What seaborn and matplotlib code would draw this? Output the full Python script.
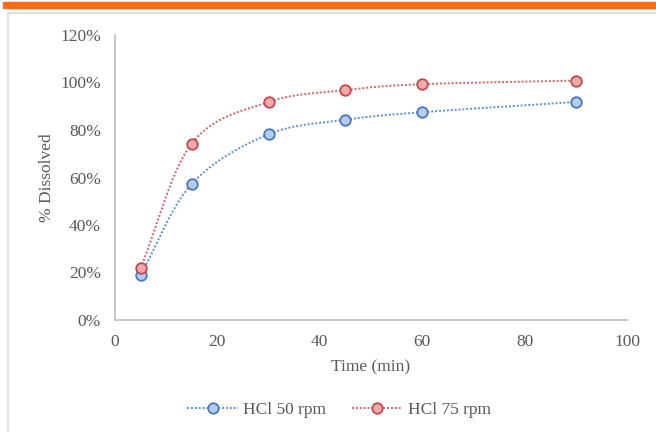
import numpy as np
import pandas as pd
import matplotlib
matplotlib.use("Agg")
import matplotlib.pyplot as plt
import seaborn as sns
from matplotlib.patches import Rectangle
from matplotlib.ticker import PercentFormatter

# values
time_min = [5, 15, 30, 45, 60, 90]
hcl_50 = [19.0, 57.3, 78.2, 84.3, 87.5, 91.8]
hcl_75 = [21.9, 74.3, 91.8, 96.8, 99.3, 100.8]
series_names = ["HCl 50 rpm", "HCl 75 rpm"]

df = pd.DataFrame({
    "Time": time_min * 2,
    "Dissolved": hcl_50 + hcl_75,
    "Series": [series_names[0]] * len(time_min) + [series_names[1]] * len(time_min),
})

sns.set_style("white")
plt.rcParams["font.family"] = ["Liberation Serif", "DejaVu Serif"]
text_grey = "#595959"
fs = 12.5

line_cols = {series_names[0]: "#5b8fd0", series_names[1]: "#d0646a"}
face_cols = {series_names[0]: "#b4cbec", series_names[1]: "#f2a9ac"}
edge_cols = {series_names[0]: "#4a78bd", series_names[1]: "#bf4b50"}


def smooth(x, y, n=40):
    # Excel-style smoothed line (Catmull-Rom through the points)
    x = np.asarray(x, float)
    y = np.asarray(y, float)
    px = np.concatenate([[2 * x[0] - x[1]], x, [2 * x[-1] - x[-2]]])
    py = np.concatenate([[2 * y[0] - y[1]], y, [2 * y[-1] - y[-2]]])
    xs, ys = [], []
    t = np.linspace(0, 1, n)
    for i in range(1, len(px) - 2):
        for p, out in ((px, xs), (py, ys)):
            p0, p1, p2, p3 = p[i - 1], p[i], p[i + 1], p[i + 2]
            m1 = (p2 - p0) / 6
            m2 = (p3 - p1) / 6
            b = ((1 - t) ** 3 * p1 + 3 * (1 - t) ** 2 * t * (p1 + m1)
                 + 3 * (1 - t) * t ** 2 * (p2 - m2) + t ** 3 * p2)
            out.extend(b)
    return np.array(xs), np.array(ys)


fig = plt.figure(figsize=(6.56, 4.32), dpi=100)
# orange top band and the light grey chart frame
fig.patches.append(Rectangle((3 / 656, 1 - 8 / 432), 653 / 656, 6 / 432,
                             transform=fig.transFigure, color="#ff6a13", zorder=0))
fig.patches.append(Rectangle((8 / 656, -0.05), 0.99, 1 - 13 / 432 + 0.05,
                             transform=fig.transFigure, fill=False,
                             edgecolor="#d9d9d9", linewidth=1.2, zorder=0))

ax = fig.add_axes([115 / 656, 1 - 320 / 432, 512 / 656, 285 / 432])
ax.set_facecolor("none")

dots = (0, (1, 1))
for name in series_names:
    sub = df[df["Series"] == name]
    sx, sy = smooth(sub["Time"], sub["Dissolved"])
    ax.plot(sx, sy, linestyle=dots, color=line_cols[name], linewidth=1.4, zorder=2)
    sns.scatterplot(data=sub, x="Time", y="Dissolved", ax=ax, s=58,
                    color=face_cols[name], edgecolor=edge_cols[name], linewidth=1.3,
                    zorder=3, legend=False)

ax.set_xlim(0, 100)
ax.set_ylim(0, 120)
ax.set_xticks([0, 20, 40, 60, 80, 100])
ax.set_yticks([0, 20, 40, 60, 80, 100, 120])
ax.yaxis.set_major_formatter(PercentFormatter(decimals=0))
ax.tick_params(labelsize=fs, colors=text_grey, length=0)
ax.tick_params(axis="x", pad=10)
ax.tick_params(axis="y", pad=10)
for side in ["top", "right"]:
    ax.spines[side].set_visible(False)
for side in ["left", "bottom"]:
    ax.spines[side].set_color("#bfbfbf")
    ax.spines[side].set_linewidth(1.2)

ax.set_xlabel("Time (min)", fontsize=fs, color=text_grey, labelpad=7)
ax.set_ylabel("% Dissolved", fontsize=fs, color=text_grey, labelpad=4)

handles = [
    plt.Line2D([], [], linestyle=dots, color=line_cols[n], linewidth=1.4,
               marker="o", markersize=7.5, markerfacecolor=face_cols[n],
               markeredgecolor=edge_cols[n], markeredgewidth=1.3)
    for n in series_names
]
fig.legend(handles, series_names, loc="center", bbox_to_anchor=(339 / 656, 1 - 410 / 432),
           ncol=2, frameon=False, fontsize=fs, labelcolor=text_grey,
           handlelength=2.9, columnspacing=1.5, handletextpad=0.3)

fig.savefig("out.png", dpi=100)
